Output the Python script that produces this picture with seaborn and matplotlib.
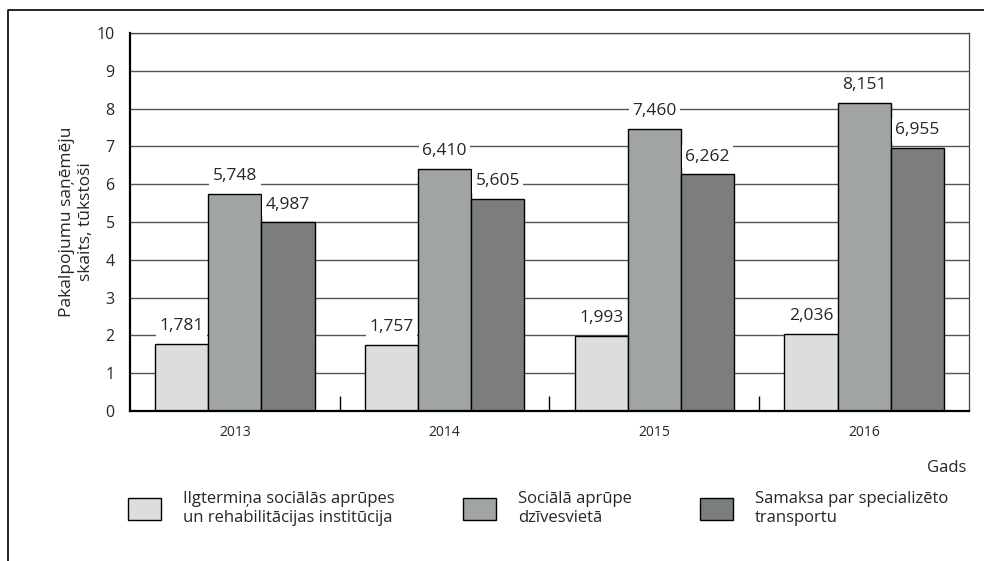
import numpy as np
import pandas as pd
import matplotlib
matplotlib.use("Agg")
import matplotlib.pyplot as plt
import seaborn as sns
from matplotlib.patches import Patch
from matplotlib.lines import Line2D

# -----------------------------
# DATA
# -----------------------------
years = ["2013", "2014", "2015", "2016"]
series_names = [
    "Ilgtermiņa sociālās aprūpes\nun rehabilitācijas institūcija",
    "Sociālā aprūpe\ndzīvesvietā",
    "Samaksa par specializēto\ntransportu",
]
institutions = [1.781, 1.757, 1.993, 2.036]
home_care = [5.748, 6.410, 7.460, 8.151]
transport = [4.987, 5.605, 6.262, 6.955]
colors = ["#dcdddf", "#a0a5a4", "#7a7e7d"]

df = pd.DataFrame({
    "year": years * 3,
    "series": [series_names[0]] * 4 + [series_names[1]] * 4 + [series_names[2]] * 4,
    "value": institutions + home_care + transport,
})

# -----------------------------
# STYLE
# -----------------------------
sns.set_style("white")
plt.rcParams["font.family"] = ["Open Sans", "DejaVu Sans"]

fig = plt.figure(figsize=(9.84, 5.61), dpi=100)
ax = fig.add_axes([0.1321, 0.2674, 0.8526, 0.6738])

sns.barplot(
    data=df,
    x="year",
    y="value",
    hue="series",
    hue_order=series_names,
    palette=colors,
    width=0.76,
    edgecolor="black",
    linewidth=1,
    legend=False,
    ax=ax,
    zorder=3,
)

# -----------------------------
# AXES
# -----------------------------
ax.set_ylim(0, 10)
ax.set_xlim(-0.5, 3.5)
ax.set_yticks(range(0, 11))
ax.grid(axis="y", color="#555555", linewidth=1, zorder=0)
ax.set_axisbelow(True)

for side in ["left", "bottom"]:
    ax.spines[side].set_color("black")
    ax.spines[side].set_linewidth(1.6)
    ax.spines[side].set_zorder(5)
for side in ["top", "right"]:
    ax.spines[side].set_color("#444444")
    ax.spines[side].set_linewidth(0.9)

ax.tick_params(axis="y", length=0, pad=11, labelsize=11.5)
ax.tick_params(axis="x", which="major", length=0, pad=10, labelsize=10)
ax.set_xticks([0.5, 1.5, 2.5], minor=True)
ax.tick_params(axis="x", which="minor", bottom=True, direction="in",
               length=11, width=1, color="black")

ax.set_xlabel("")
ax.set_ylabel("Pakalpojumu saņēmēju\nskaits, tūkstoši", fontsize=12.5, labelpad=2)

# value labels with white background
for container in ax.containers:
    vals = [bar.get_height() for bar in container]
    labels = [f"{v:.3f}".replace(".", ",") for v in vals]
    ax.bar_label(
        container,
        labels=labels,
        padding=7,
        fontsize=12.5,
        bbox=dict(facecolor="white", edgecolor="none", pad=2.5),
        zorder=4,
    )

fig.text(0.982, 0.166, "Gads", ha="right", va="center", fontsize=12)

# -----------------------------
# LEGEND
# -----------------------------
handles = [Patch(facecolor=c, edgecolor="black", linewidth=1) for c in colors]
fig.legend(
    handles,
    series_names,
    loc="upper left",
    bbox_to_anchor=(0.123, 0.136),
    ncol=3,
    frameon=False,
    fontsize=12,
    handlelength=2.0,
    handleheight=1.6,
    handletextpad=1.3,
    columnspacing=4.1,
    borderaxespad=0,
)

# outer frame (top and left edge only)
fig.add_artist(Line2D([8 / 984, 8 / 984, 1.0], [0.0, 1 - 10 / 561, 1 - 10 / 561],
                      transform=fig.transFigure, color="black", linewidth=1.2))

fig.savefig("out.png", dpi=100)
